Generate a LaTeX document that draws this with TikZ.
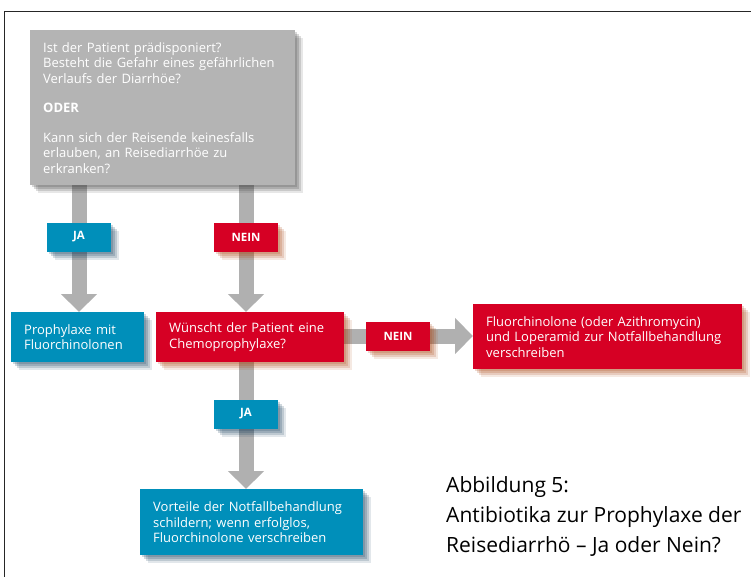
\documentclass[tikz,border=0pt]{standalone}
\usepackage{fontspec}
\setmainfont{Open Sans}
\newfontfamily\titlefont{Open Sans}
\usetikzlibrary{arrows.meta,shadows,backgrounds}
\definecolor{boxgray}{RGB}{180,180,180}
\definecolor{arrowgray}{RGB}{176,176,176}
\definecolor{jablue}{RGB}{0,143,186}
\definecolor{neinred}{RGB}{214,0,36}
\definecolor{grayshade}{RGB}{60,60,60}
\definecolor{blueshade}{RGB}{20,60,90}
\definecolor{redshade}{RGB}{170,70,20}
\tikzset{
  softshadow/.style={
    general shadow={fill=#1,opacity=.2,shadow xshift=2pt,shadow yshift=-2pt},
    general shadow={fill=#1,opacity=.2,shadow xshift=4pt,shadow yshift=-4pt},
    general shadow={fill=#1,opacity=.18,shadow xshift=6pt,shadow yshift=-6pt},
    general shadow={fill=#1,opacity=.12,shadow xshift=8pt,shadow yshift=-8pt}},
  flowbox/.style={anchor=north west, inner xsep=13pt, inner ysep=0pt, align=left,
    text=white, font=\fontsize{13}{15.5}\selectfont},
  graybox/.style={flowbox, fill=boxgray, softshadow=grayshade},
  bluebox/.style={flowbox, fill=jablue, softshadow=blueshade},
  redbox/.style={flowbox, fill=neinred, softshadow=redshade},
  answer/.style={minimum width=64pt, minimum height=29pt, inner sep=0pt, text=white,
    font=\fontsize{11.5}{13}\selectfont\bfseries},
  jabox/.style={answer, fill=jablue, softshadow=blueshade},
  neinbox/.style={answer, fill=neinred, softshadow=redshade},
  bigarrow/.style={draw=arrowgray, line width=15pt, -{Triangle[width=35pt,length=18pt]}}
}

\begin{document}
\begin{tikzpicture}[x=1pt,y=-1pt]
  \useasboundingbox (0,0) rectangle (751,577);
  \draw [line width=1.5pt, black!85] (4.5,577) -- (4.5,11.5) -- (751,11.5);

  % question boxes
  \node [graybox, text width=239pt, minimum height=155pt] (risk) at (30,30)
    {Ist der Patient prädisponiert?\\
     Besteht die Gefahr eines gefährlichen\\
     Verlaufs der Diarrhöe?\\[14pt]
     \textbf{ODER}\\[14pt]
     Kann sich der Reisende keinesfalls\\
     erlauben, an Reisediarrhöe zu\\
     erkranken?};
  \node [bluebox, text width=107pt, minimum height=50pt] (proph) at (11,312)
    {Prophylaxe mit\\ Fluorchinolonen};
  \node [redbox, text width=162pt, minimum height=50pt] (wish) at (156,312)
    {Wünscht der Patient eine\\ Chemoprophylaxe?};
  \node [redbox, text width=243pt, minimum height=65pt] (emerg) at (473,304)
    {Fluorchinolone (oder Azithromycin)\\
     und Loperamid zur Notfallbehandlung\\
     verschreiben};
  \node [bluebox, text width=197pt, minimum height=66pt] (adv) at (140,489)
    {Vorteile der Notfallbehandlung\\
     schildern; wenn erfolglos,\\
     Fluorchinolone verschreiben};

  % answers
  \node [jabox] (ja1) at (79,237) {JA};
  \node [neinbox] (nein1) at (246,237) {NEIN};
  \node [neinbox] (nein2) at (398,336) {NEIN};
  \node [jabox] (ja2) at (246,414) {JA};

  \begin{scope}[on background layer]
    \draw [bigarrow] (ja1 |- risk.south) -- (ja1 |- proph.north);
    \draw [bigarrow] (nein1 |- risk.south) -- (nein1 |- wish.north);
    \draw [bigarrow] (wish.east |- nein2) -- (nein2 -| emerg.west);
    \draw [bigarrow] (ja2 |- wish.south) -- (ja2 |- adv.north);
  \end{scope}

  \node [anchor=north west, align=left, inner sep=0pt,
    font=\titlefont\fontsize{21}{30}\selectfont] (title) at (446,476)
    {Abbildung 5:\\
     Antibiotika zur Prophylaxe der\\
     Reisediarrhö – Ja oder Nein?};
\end{tikzpicture}
\end{document}
